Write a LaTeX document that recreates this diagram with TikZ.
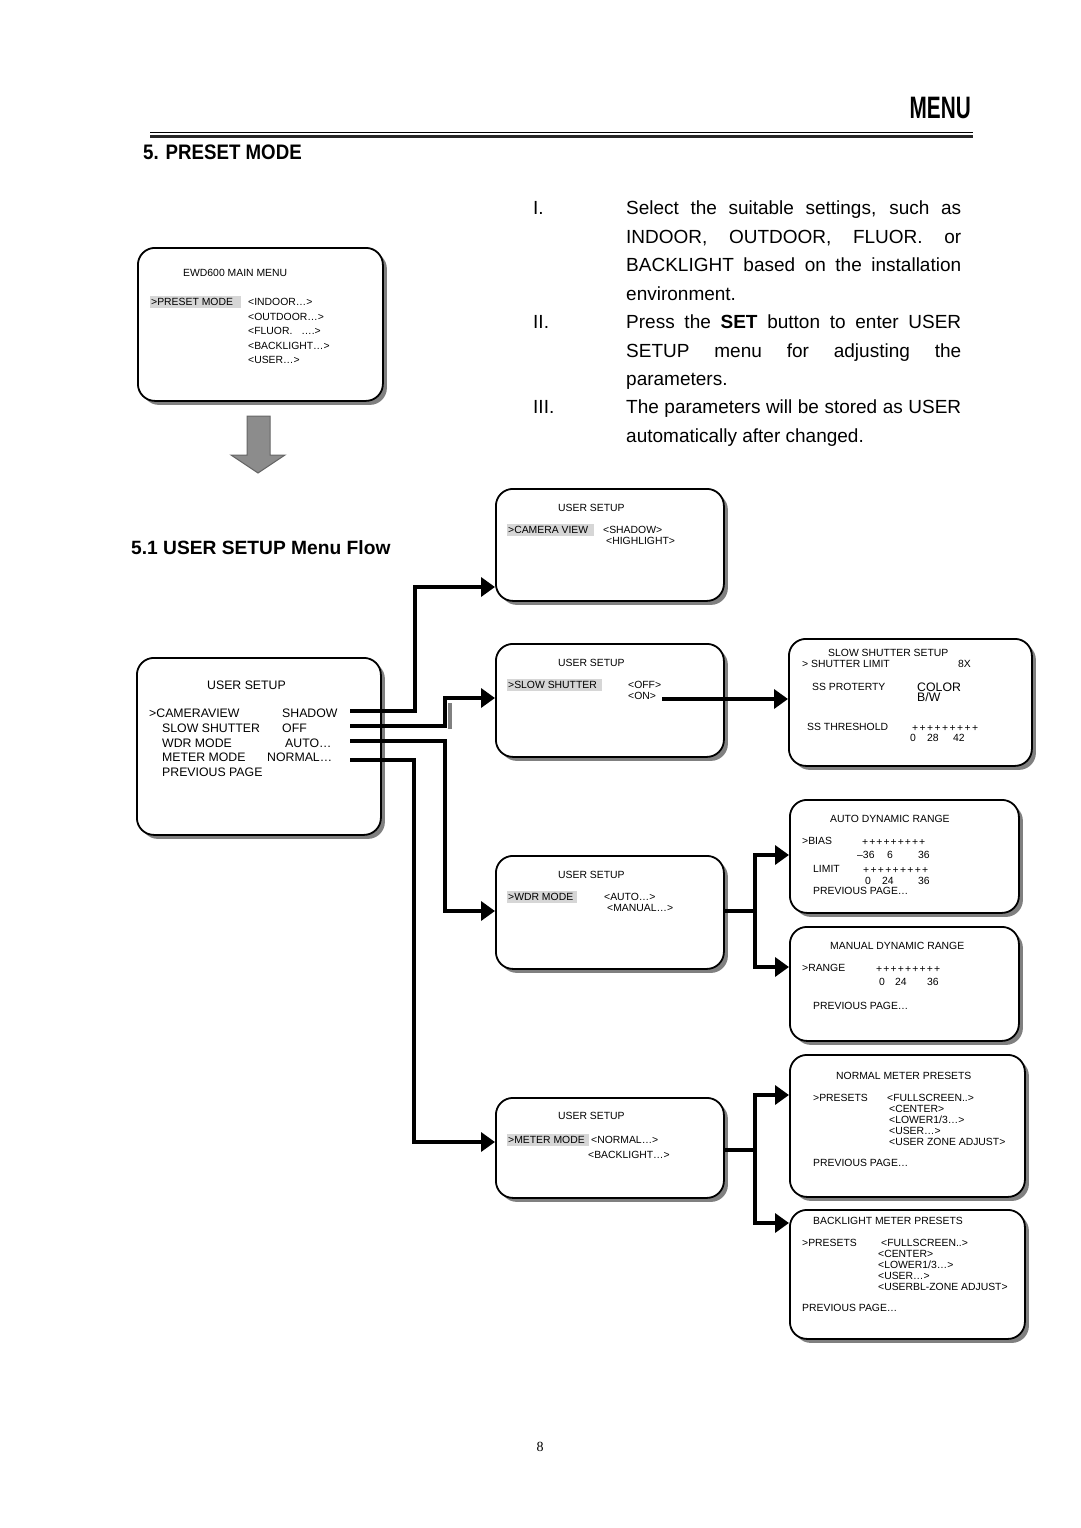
\documentclass[tikz,border=0pt]{standalone}
\usepackage{fontspec}
\usepackage{graphicx}
\setmainfont{Liberation Sans}
\newfontfamily\serifpn{Liberation Serif}
\usetikzlibrary{arrows.meta,shadows}
\newcommand\plusrow[1]{\makebox[#1][s]{+\hfill+\hfill+\hfill+\hfill+\hfill+\hfill+\hfill+\hfill+}}
\begin{document}
\begin{tikzpicture}[x=1pt,y=-1pt,
  menubox/.style={draw, line width=1.8pt, rounded corners=17pt, fill=white, anchor=north west, inner sep=0pt,
    drop shadow={shadow xshift=4pt, shadow yshift=-4pt, fill=black!50, opacity=1}},
  sm/.style={anchor=west, inner sep=0pt, font=\fontsize{10.4}{12}\selectfont, text height=7.4pt, text depth=0pt},
  md/.style={anchor=west, inner sep=0pt, font=\fontsize{12.3}{14}\selectfont, text height=8.8pt, text depth=0pt},
  big/.style={anchor=west, inner sep=0pt, font=\fontsize{19}{22}\selectfont, text height=13.6pt, text depth=0pt},
  hl/.style={fill=black!16},
  conn/.style={line width=3.6pt, -{Triangle[length=14pt,width=19pt]}},
  wire/.style={line width=3.6pt}
]
\useasboundingbox[fill=white] (0,0) rectangle (1080,1528);

% ---------- header ----------
\node[anchor=east, inner sep=0pt, font=\bfseries\fontsize{31}{33}\selectfont, text height=22.2pt, text depth=0pt] (menu) at (971,107) {\scalebox{0.67}[1]{MENU}};
\draw[line width=1.3pt] (150,132.5) -- (973,132.5);
\draw[line width=2.6pt, black!85] (150,136.5) -- (973,136.5);
\node[anchor=west, inner sep=0pt, font=\bfseries\fontsize{21}{23}\selectfont, text height=15pt, text depth=0pt] (sec) at (143,152) {\scalebox{0.89}[1]{5. PRESET MODE}};

% ---------- paragraph ----------
\node[big] (n1) at (533,208) {I.};
\node[big] (l1) at (626,208) {\makebox[335pt][s]{Select the suitable settings, such as}};
\node[big] (l2) at (626,236.5) {\makebox[335pt][s]{INDOOR, OUTDOOR, FLUOR. or}};
\node[big] (l3) at (626,265) {\makebox[335pt][s]{BACKLIGHT based on the installation}};
\node[big] (l4) at (626,293.5) {environment.};
\node[big] (n2) at (533,322) {II.};
\node[big] (l5) at (626,322) {\makebox[335pt][s]{Press the \textbf{SET} button to enter USER}};
\node[big] (l6) at (626,350.5) {\makebox[335pt][s]{SETUP menu for adjusting the}};
\node[big] (l7) at (626,379) {parameters.};
\node[big] (n3) at (533,407) {III.};
\node[big] (l8) at (626,407) {\makebox[335pt][s]{The parameters will be stored as USER}};
\node[big] (l9) at (626,435.5) {automatically after changed.};

% ---------- main menu ----------
\node[menubox, minimum width=245pt, minimum height=153pt] (mm) at (137,247) {};
\node[sm] (mm1) at (183,273) {EWD600 MAIN MENU};
\fill[hl] (150,296) rectangle (241,308);
\node[sm] (mm2) at (151,302) {>PRESET MODE};
\node[sm] (mm3) at (248,302) {<INDOOR…>};
\node[sm] (mm4) at (248,317) {<OUTDOOR…>};
\node[sm] (mm5) at (248,331) {<FLUOR.\hspace{9pt}….>};
\node[sm] (mm6) at (248,346) {<BACKLIGHT…>};
\node[sm] (mm7) at (248,360) {<USER…>};

% gray down arrow
\draw[fill=black!45, draw=black!60, line width=1pt] (247,416) -- (270,416) -- (270,455) -- (285,455) -- (258,473) -- (231,455) -- (247,455) -- cycle;

\node[anchor=west, inner sep=0pt, font=\bfseries\fontsize{19.2}{21}\selectfont, text height=13.8pt, text depth=0pt] (sub) at (131,548) {5.1 USER SETUP Menu Flow};

% ---------- left user setup ----------
\node[menubox, minimum width=244pt, minimum height=177pt] (us) at (136,657) {};
\node[md] (us1) at (207,685) {USER SETUP};
\node[md] (us2) at (149,713) {>CAMERAVIEW};
\node[md] (us3) at (282,713) {SHADOW};
\node[md] (us4) at (162,728) {SLOW SHUTTER};
\node[md] (us5) at (282,728) {OFF};
\node[md] (us6) at (162,743) {WDR MODE};
\node[md] (us7) at (285,743) {AUTO…};
\node[md] (us8) at (162,757) {METER MODE};
\node[md] (us9) at (267,757) {NORMAL…};
\node[md] (us10) at (162,772) {PREVIOUS PAGE};

% ---------- camera view ----------
\node[menubox, minimum width=228pt, minimum height=112pt] (cam) at (495,488) {};
\node[sm] (cam1) at (558,508) {USER SETUP};
\fill[hl] (507,524) rectangle (594,536);
\node[sm] (cam2) at (508,530) {>CAMERA VIEW};
\node[sm] (cam3) at (603,530) {<SHADOW>};
\node[sm] (cam4) at (606,541) {<HIGHLIGHT>};

% ---------- slow shutter ----------
\node[menubox, minimum width=228pt, minimum height=113pt] (slow) at (495,643) {};
\node[sm] (sl1) at (558,663) {USER SETUP};
\fill[hl] (507,679) rectangle (602,691);
\node[sm] (sl2) at (508,685) {>SLOW SHUTTER};
\node[sm] (sl3) at (628,685) {<OFF>};
\node[sm] (sl4) at (628,696) {<ON>};

% ---------- wdr ----------
\node[menubox, minimum width=228pt, minimum height=113pt] (wdr) at (495,855) {};
\node[sm] (wd1) at (558,875) {USER SETUP};
\fill[hl] (507,891) rectangle (577,903);
\node[sm] (wd2) at (508,897) {>WDR MODE};
\node[sm] (wd3) at (604,897) {<AUTO…>};
\node[sm] (wd4) at (607,908) {<MANUAL…>};

% ---------- meter ----------
\node[menubox, minimum width=228pt, minimum height=100pt] (meter) at (495,1097) {};
\node[sm] (me1) at (558,1116) {USER SETUP};
\fill[hl] (507,1134) rectangle (589,1146);
\node[sm] (me2) at (508,1140) {>METER MODE};
\node[sm] (me3) at (591,1140) {<NORMAL…>};
\node[sm] (me4) at (588,1155) {<BACKLIGHT…>};

% ---------- slow shutter setup ----------
\node[menubox, minimum width=243pt, minimum height=127pt] (ss) at (788,638) {};
\node[sm] (ss1) at (828,653) {SLOW SHUTTER SETUP};
\node[sm] (ss2) at (802,664) {> SHUTTER LIMIT};
\node[sm] (ss3) at (958,664) {8X};
\node[sm] (ss4) at (812,687) {SS PROTERTY};
\node[md] (ss5) at (917,687) {COLOR};
\node[md] (ss6) at (917,697) {B/W};
\node[sm] (ss7) at (807,727) {SS THRESHOLD};
\node[sm] (ss8) at (912,728) {\plusrow{66pt}};
\node[sm] (ss9) at (910,738) {0};
\node[sm] (ss10) at (927,738) {28};
\node[sm] (ss11) at (953,738) {42};

% ---------- auto dynamic range ----------
\node[menubox, minimum width=229pt, minimum height=113pt] (adr) at (789,799) {};
\node[sm] (ad1) at (830,819) {AUTO DYNAMIC RANGE};
\node[sm] (ad2) at (802,841) {>BIAS};
\node[sm] (ad3) at (862,842) {\plusrow{63pt}};
\node[sm] (ad4) at (857,855) {–36};
\node[sm] (ad5) at (887,855) {6};
\node[sm] (ad6) at (918,855) {36};
\node[sm] (ad7) at (813,869) {LIMIT};
\node[sm] (ad8) at (863,870) {\plusrow{65pt}};
\node[sm] (ad9) at (865,881) {0};
\node[sm] (ad10) at (882,881) {24};
\node[sm] (ad11) at (918,881) {36};
\node[sm] (ad12) at (813,891) {PREVIOUS PAGE…};

% ---------- manual dynamic range ----------
\node[menubox, minimum width=229pt, minimum height=114pt] (mdr) at (789,926) {};
\node[sm] (md1) at (830,946) {MANUAL DYNAMIC RANGE};
\node[sm] (md2) at (802,968) {>RANGE};
\node[sm] (md3) at (876,969) {\plusrow{64pt}};
\node[sm] (md4) at (879,982) {0};
\node[sm] (md5) at (895,982) {24};
\node[sm] (md6) at (927,982) {36};
\node[sm] (md7) at (813,1006) {PREVIOUS PAGE…};

% ---------- normal meter presets ----------
\node[menubox, minimum width=235pt, minimum height=142pt] (nm) at (789,1054) {};
\node[sm] (nm1) at (836,1076) {NORMAL METER PRESETS};
\node[sm] (nm2) at (813,1098) {>PRESETS};
\node[sm] (nm3) at (887,1098) {<FULLSCREEN..>};
\node[sm] (nm4) at (889,1109) {<CENTER>};
\node[sm] (nm5) at (889,1120) {<LOWER1/3…>};
\node[sm] (nm6) at (889,1131) {<USER…>};
\node[sm] (nm7) at (889,1142) {<USER ZONE ADJUST>};
\node[sm] (nm8) at (813,1163) {PREVIOUS PAGE…};

% ---------- backlight meter presets ----------
\node[menubox, minimum width=235pt, minimum height=129pt] (bl) at (789,1209) {};
\node[sm] (bl1) at (813,1221) {BACKLIGHT METER PRESETS};
\node[sm] (bl2) at (802,1243) {>PRESETS};
\node[sm] (bl3) at (881,1243) {<FULLSCREEN..>};
\node[sm] (bl4) at (878,1254) {<CENTER>};
\node[sm] (bl5) at (878,1265) {<LOWER1/3…>};
\node[sm] (bl6) at (878,1276) {<USER…>};
\node[sm] (bl7) at (878,1287) {<USERBL-ZONE ADJUST>};
\node[sm] (bl8) at (802,1308) {PREVIOUS PAGE…};

% ---------- connectors ----------
\coordinate (o1) at (350,711);
\coordinate (o2) at (350,726);
\coordinate (o3) at (350,741);
\coordinate (o4) at (350,760);
\coordinate (k1) at (415,587);
\coordinate (k2) at (445,698);
\coordinate (k3) at (445,911);
\coordinate (k4) at (414,1142);
\fill[black!50] (447.5,703) rectangle (451.5,729);
\draw[conn] (o1) -| (k1) -- (k1 -| cam.west);
\draw[conn] (o2) -| (k2) -- (k2 -| slow.west);
\draw[conn] (o3) -| (k3) -- (k3 -| wdr.west);
\draw[conn] (o4) -| (k4) -- (k4 -| meter.west);

\coordinate (o5) at (662,699);
\draw[conn] (o5) -- (o5 -| ss.west);

\coordinate (j1) at (755,911);
\coordinate (a1) at (755,855);
\coordinate (a2) at (755,967);
\draw[wire] (j1 -| wdr.east) -- (j1);
\draw[conn] (j1) |- (a1 -| adr.west);
\draw[conn] (j1) |- (a2 -| mdr.west);

\coordinate (j2) at (755,1150);
\coordinate (b1) at (755,1095);
\coordinate (b2) at (755,1223);
\draw[wire] (j2 -| meter.east) -- (j2);
\draw[conn] (j2) |- (b1 -| nm.west);
\draw[conn] (j2) |- (b2 -| bl.west);

% page number
\node[inner sep=0pt, font=\serifpn\fontsize{14}{16}\selectfont] (pg) at (540,1447) {8};
\end{tikzpicture}
\end{document}
